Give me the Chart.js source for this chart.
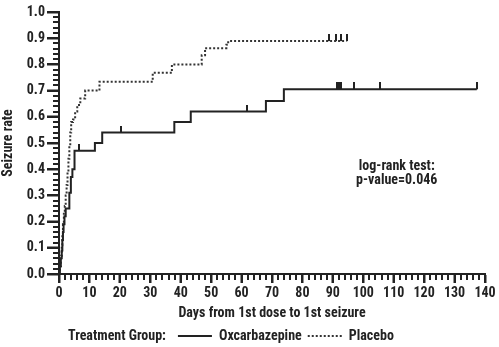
<!DOCTYPE html>
<html>
<head>
<meta charset="utf-8">
<title>Time to first seizure</title>
<script src="https://cdn.jsdelivr.net/npm/chart.js@4.4.0/dist/chart.umd.min.js"></script>
<style>
    html, body { margin: 0; padding: 0; background: #fff; }
    #wrap { width: 499px; height: 347px; }
</style>
</head>
<body>
<div id="wrap"><canvas id="chart"></canvas></div>
<script>
// Kaplan-Meier steps: day of the event and the cumulative seizure rate after it
const oxcDays  = [0, 0.3, 0.6, 0.9, 1.1, 1.3, 1.5, 1.8, 2.2, 3.4, 3.9, 4.4, 5.1, 11.8, 14.2, 37.9, 43.3, 68.0, 73.9, 137.3];
const oxcRates = [0, 0.03, 0.06, 0.09, 0.13, 0.16, 0.19, 0.22, 0.25, 0.31, 0.37, 0.40, 0.47, 0.50, 0.54, 0.58, 0.62, 0.66, 0.705, 0.705];
const oxcCensorDays  = [6.7, 20.3, 61.9, 91.2, 92.0, 92.8, 96.8, 105.6, 137.3];
const oxcCensorRates = [0.47, 0.54, 0.62, 0.705, 0.705, 0.705, 0.705, 0.705, 0.705];

const plaDays  = [0, 0.3, 0.6, 0.9, 1.1, 1.3, 1.6, 1.9, 2.2, 2.5, 2.8, 3.1, 3.4, 3.7, 4.0, 4.6, 5.3, 6.0, 7.0, 8.6, 13.3, 30.8, 37.1, 46.9, 48.0, 55.0, 55.6, 94.5];
const plaRates = [0, 0.03, 0.07, 0.11, 0.15, 0.19, 0.23, 0.26, 0.30, 0.34, 0.39, 0.44, 0.49, 0.54, 0.58, 0.59, 0.62, 0.645, 0.67, 0.70, 0.734, 0.768, 0.80, 0.835, 0.862, 0.875, 0.889, 0.889];
const plaCensorDays  = [88.8, 90.9, 92.7, 94.5];
const plaCensorRates = [0.889, 0.889, 0.889, 0.889];

const xTickValues = [0, 10, 20, 30, 40, 50, 60, 70, 80, 90, 100, 110, 120, 130, 140];
const yTickValues = [0, 0.1, 0.2, 0.3, 0.4, 0.5, 0.6, 0.7, 0.8, 0.9, 1.0];
const xMinorStep = 2;
const yMinorStep = 0.02;

const testLines = ['log-rank test:', 'p-value=0.046'];
const testAt = { day: 111, rates: [0.412, 0.358] };
const legendTitle = 'Treatment Group:';

const INK = '#222';
const FONT = "'Roboto Condensed', 'Open Sans Condensed', sans-serif";

function toPoints(xs, ys) {
    return xs.map((x, i) => ({ x: x, y: ys[i] }));
}

// censor mark: short vertical stroke sitting on top of the curve
function censorMark() {
    const c = document.createElement('canvas');
    c.width = 2;
    c.height = 14;
    const g = c.getContext('2d');
    g.fillStyle = INK;
    g.fillRect(0, 0, 2, 7);
    return c;
}
const mark = censorMark();

// tick marks, long at the labelled values and short in between
const axisTicks = {
    id: 'axisTicks',
    afterDraw(chart) {
        const { ctx, scales: { x, y } } = chart;
        const x0 = Math.round(x.left), y0 = Math.round(y.bottom);
        ctx.save();
        ctx.globalAlpha = 1;
        ctx.globalCompositeOperation = 'source-over';
        ctx.fillStyle = INK;
        for (let v = 0; v <= x.max + 1e-9; v += xMinorStep) {
            const px = Math.round(x.getPixelForValue(v));
            ctx.fillRect(px - 1, y0, 2, 6);
        }
        xTickValues.forEach(v => {
            const px = Math.round(x.getPixelForValue(v));
            ctx.fillRect(px - 1, y0, 2, 9);
        });
        for (let v = 0; v <= y.max + 1e-9; v += yMinorStep) {
            const py = Math.round(y.getPixelForValue(v));
            ctx.fillRect(x0 - 6, py - 1, 6, 2);
        }
        yTickValues.forEach(v => {
            const py = Math.round(y.getPixelForValue(v));
            ctx.fillRect(x0 - 12, py - 1, 12, 2);
        });
        ctx.fillRect(x0 - 1, Math.round(y.top) - 1, 2, y0 - Math.round(y.top) + 2);
        ctx.fillRect(x0 - 1, y0 - 1, Math.round(x.right) - x0 + 2, 2);
        ctx.restore();
    }
};

const testLabel = {
    id: 'testLabel',
    afterDraw(chart) {
        const { ctx, scales: { x, y } } = chart;
        ctx.save();
        ctx.fillStyle = INK;
        ctx.font = 'bold 14px ' + FONT;
        ctx.textAlign = 'center';
        ctx.textBaseline = 'middle';
        testLines.forEach((t, i) => {
            ctx.fillText(t, x.getPixelForValue(testAt.day), y.getPixelForValue(testAt.rates[i]));
        });
        ctx.restore();
    }
};

// legend row: "Treatment Group:" then a line sample and name for each curve
const groupLegend = {
    id: 'groupLegend',
    afterDraw(chart) {
        const { ctx } = chart;
        const rowY = chart.height - 11;
        ctx.save();
        ctx.fillStyle = INK;
        ctx.font = 'bold 14px ' + FONT;
        ctx.textBaseline = 'middle';
        let cx = 68;
        ctx.fillText(legendTitle, cx, rowY);
        cx += ctx.measureText(legendTitle).width + 12;
        chart.data.datasets.filter(d => !d.censor).forEach(d => {
            ctx.strokeStyle = d.borderColor;
            ctx.lineWidth = 2;
            ctx.setLineDash(d.borderDash || []);
            ctx.beginPath();
            ctx.moveTo(cx, rowY);
            ctx.lineTo(cx + 34, rowY);
            ctx.stroke();
            ctx.setLineDash([]);
            cx += 41;
            ctx.fillText(d.label, cx, rowY);
            cx += ctx.measureText(d.label).width + 6;
        });
        ctx.restore();
    }
};

const tickFont = { family: FONT, size: 14, weight: 'bold' };
const titleFont = { family: FONT, size: 14, weight: 'bold' };

new Chart(document.querySelector('#chart'), {
    type: 'line',
    data: {
        datasets: [
            {
                label: 'Oxcarbazepine',
                data: toPoints(oxcDays, oxcRates),
                stepped: 'before',
                borderColor: INK,
                borderWidth: 2,
                pointRadius: 0,
                fill: false
            },
            {
                label: 'Placebo',
                data: toPoints(plaDays, plaRates),
                stepped: 'before',
                borderColor: '#333',
                borderWidth: 2,
                borderDash: [2, 2],
                pointRadius: 0,
                fill: false
            },
            {
                label: 'Oxcarbazepine censored',
                censor: true,
                data: toPoints(oxcCensorDays, oxcCensorRates),
                showLine: false,
                pointStyle: mark,
                pointRadius: 7
            },
            {
                label: 'Placebo censored',
                censor: true,
                data: toPoints(plaCensorDays, plaCensorRates),
                showLine: false,
                pointStyle: mark,
                pointRadius: 7
            }
        ]
    },
    options: {
        animation: false,
        responsive: true,
        maintainAspectRatio: false,
        layout: { padding: { top: 12, right: 14, bottom: 25, left: 0 } },
        plugins: {
            legend: { display: false },
            tooltip: { enabled: false }
        },
        scales: {
            x: {
                type: 'linear',
                min: 0,
                max: 140,
                afterBuildTicks: s => { s.ticks = xTickValues.map(v => ({ value: v })); },
                afterFit: s => { s.height = 48; },
                ticks: { font: tickFont, color: INK, maxRotation: 0, autoSkip: false, padding: 2 },
                grid: { drawOnChartArea: false, tickLength: 9, tickWidth: 2, tickColor: INK },
                border: { color: INK, width: 2 },
                title: { display: true, text: 'Days from 1st dose to 1st seizure', font: titleFont, color: INK, padding: { top: 2, bottom: 0 } }
            },
            y: {
                type: 'linear',
                min: 0,
                max: 1,
                afterBuildTicks: s => { s.ticks = yTickValues.map(v => ({ value: v })); },
                afterFit: s => { s.width = 59; },
                ticks: { font: tickFont, color: INK, padding: 2, callback: v => v.toFixed(1) },
                grid: { drawOnChartArea: false, tickLength: 12, tickWidth: 2, tickColor: INK },
                border: { color: INK, width: 2 },
                title: { display: true, text: 'Seizure rate', font: titleFont, color: INK, padding: { top: 0, bottom: 4 } }
            }
        }
    },
    plugins: [axisTicks, testLabel, groupLegend]
});
</script>
</body>
</html>
